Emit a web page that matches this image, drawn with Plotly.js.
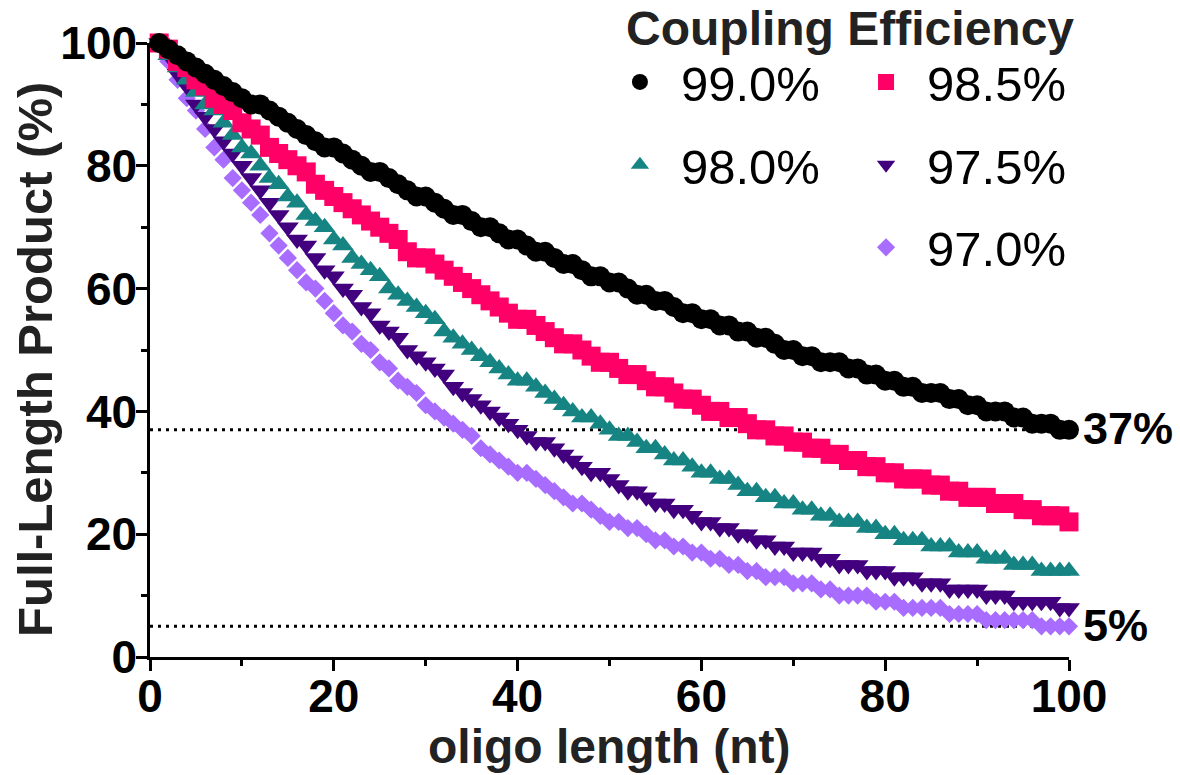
<!DOCTYPE html>
<html>
<head>
<meta charset="utf-8">
<script src="https://cdn.plot.ly/plotly-3.0.1.min.js"></script>
<style>
html,body{margin:0;padding:0;background:#ffffff;}
#chart{width:1180px;height:775px;}
</style>
</head>
<body>
<div id="chart"></div>
<script>
// oligo length (nt)
const oligoLength = [
  1,2,3,4,5,6,7,8,9,10,
  11,12,13,14,15,16,17,18,19,20,
  21,22,23,24,25,26,27,28,29,30,
  31,32,33,34,35,36,37,38,39,40,
  41,42,43,44,45,46,47,48,49,50,
  51,52,53,54,55,56,57,58,59,60,
  61,62,63,64,65,66,67,68,69,70,
  71,72,73,74,75,76,77,78,79,80,
  81,82,83,84,85,86,87,88,89,90,
  91,92,93,94,95,96,97,98,99,100
];

// Full-length product (%) read per coupling efficiency
const product990 = [
  100,99,98,97,96,95,94,93,92,91,
  90,90,89,88,87,86,85,84,83,83,
  82,81,80,79,79,78,77,76,75,75,
  74,73,72,72,71,70,70,69,68,68,
  67,66,66,65,64,64,63,62,62,61,
  61,60,59,59,58,58,57,56,56,55,
  55,54,54,53,53,52,52,51,50,50,
  49,49,48,48,48,47,47,46,46,45,
  45,44,44,43,43,43,42,42,41,41,
  40,40,40,39,39,38,38,38,37,37
];
const product985 = [
  100,99,97,96,94,93,91,90,89,87,
  86,85,83,82,81,80,79,77,76,75,
  74,73,72,71,70,69,68,66,65,65,
  64,63,62,61,60,59,58,57,56,55,
  55,54,53,52,51,51,50,49,48,48,
  47,46,46,45,44,44,43,42,42,41,
  40,40,39,39,38,37,37,36,36,35,
  35,34,34,33,33,32,32,31,31,30,
  30,29,29,29,28,28,27,27,26,26,
  26,25,25,25,24,24,23,23,23,22
];
const product980 = [
  100,98,96,94,92,90,89,87,85,83,
  82,80,78,77,75,74,72,71,70,68,
  67,65,64,63,62,60,59,58,57,56,
  55,53,52,51,50,49,48,47,46,45,
  45,44,43,42,41,40,39,39,38,37,
  36,36,35,34,34,33,32,32,31,30,
  30,29,29,28,27,27,26,26,25,25,
  24,24,23,23,22,22,22,21,21,20,
  20,19,19,19,18,18,18,17,17,17,
  16,16,16,15,15,15,14,14,14,14
];
const product975 = [
  100,98,95,93,90,88,86,84,82,80,
  78,76,74,72,70,68,67,65,63,62,
  60,59,57,56,54,53,52,50,49,48,
  47,46,44,43,42,41,40,39,38,37,
  36,35,35,34,33,32,31,30,30,29,
  28,27,27,26,25,25,24,24,23,22,
  22,21,21,20,20,19,19,18,18,17,
  17,17,16,16,15,15,15,14,14,14,
  13,13,13,12,12,12,11,11,11,11,
  10,10,10,9,9,9,9,9,8,8
];
const product970 = [
  100,97,94,91,89,86,83,81,78,76,
  74,72,69,67,65,63,61,60,58,56,
  54,53,51,50,48,47,45,44,43,41,
  40,39,38,37,36,34,33,32,31,30,
  30,29,28,27,26,25,25,24,23,22,
  22,21,21,20,19,19,18,18,17,17,
  16,16,15,15,14,14,13,13,13,12,
  12,12,11,11,10,10,10,10,9,9,
  9,8,8,8,8,8,7,7,7,7,
  6,6,6,6,6,6,5,5,5,5
];

const seriesNames = ['99.0%', '98.5%', '98.0%', '97.5%', '97.0%'];
const referenceLevels = [37, 5];
const referenceLabels = ['37%', '5%'];
const xTickValues = [0, 20, 40, 60, 80, 100];
const yTickValues = [0, 20, 40, 60, 80, 100];
const xTitle = 'oligo length (nt)';
const yTitle = 'Full-Length Product (%)';
const legendTitle = 'Coupling Efficiency';

const FONT = 'Liberation Sans, Arial, Helvetica, sans-serif';

// drawing order: lowest curve first, so the 99.0% circles sit on top
const specs = [
  {name: seriesNames[4], y: product970, symbol: 'diamond',       size: 14, color: '#A86CFF', legend: 'legend2', rank: 5},
  {name: seriesNames[3], y: product975, symbol: 'triangle-down', size: 19, color: '#42007F', legend: 'legend2', rank: 4},
  {name: seriesNames[2], y: product980, symbol: 'triangle-up',   size: 19, color: '#168482', legend: 'legend',  rank: 3},
  {name: seriesNames[1], y: product985, symbol: 'square',        size: 19, color: '#FF0066', legend: 'legend2', rank: 2},
  {name: seriesNames[0], y: product990, symbol: 'circle',        size: 20, color: '#000000', legend: 'legend',  rank: 1}
];

const traces = specs.map(s => ({
  type: 'scatter',
  mode: 'markers',
  name: s.name,
  x: oligoLength,
  y: s.y,
  cliponaxis: false,
  legend: s.legend,
  legendgroup: 'g' + s.rank,
  legendrank: s.rank,
  marker: {symbol: s.symbol, size: s.size, color: s.color, line: {width: 0}},
  hoverinfo: 'x+y+name'
}));

const shapes = referenceLevels.map(v => ({
  type: 'line', xref: 'x', yref: 'y', x0: 0, x1: 100, y0: v, y1: v,
  layer: 'below',
  line: {color: '#000000', width: 3, dash: '3px,5px'}
}));

const annotations = referenceLevels.map((v, i) => ({
  xref: 'x', yref: 'y', x: 100, y: v,
  text: referenceLabels[i],
  showarrow: false, xanchor: 'left', yanchor: 'middle',
  xshift: 12, yshift: 1,
  font: {family: FONT, size: 45, color: '#000000', weight: 'bold'}
}));
annotations.push({
  xref: 'paper', yref: 'paper', x: 0.7617, y: 1.0244,
  text: legendTitle,
  showarrow: false, xanchor: 'center', yanchor: 'middle',
  font: {family: FONT, size: 48, color: '#222222', weight: 'bold'}
});
// axis titles as annotations so they can sit where the reference puts them
annotations.push({
  xref: 'paper', yref: 'paper', x: 0.5, y: -0.145,
  text: xTitle,
  showarrow: false, xanchor: 'center', yanchor: 'middle',
  font: {family: FONT, size: 48, color: '#222222', weight: 'bold'}
});
annotations.push({
  xref: 'paper', yref: 'paper', x: -0.1252, y: 0.4853,
  text: yTitle, textangle: -90,
  showarrow: false, xanchor: 'center', yanchor: 'middle',
  font: {family: FONT, size: 49, color: '#222222', weight: 'bold'}
});

const legendCommon = {
  orientation: 'v',
  xanchor: 'left', yanchor: 'top',
  y: 0.999,
  bgcolor: 'rgba(0,0,0,0)',
  borderwidth: 0,
  itemwidth: 72,
  tracegroupgap: 16,
  traceorder: 'grouped',
  font: {family: FONT, size: 49, color: '#000000'}
};

const axisCommon = {
  range: [0, 100],
  showgrid: false,
  zeroline: false,
  showline: true,
  linecolor: '#000000',
  linewidth: 2.5,
  ticks: 'outside',
  ticklen: 11,
  tickwidth: 2.5,
  tickcolor: '#000000',
  tickfont: {family: FONT, size: 46, color: '#000000', weight: 'bold'},
  minor: {dtick: 10, tick0: 0, ticks: 'outside', ticklen: 6, tickwidth: 2.5, tickcolor: '#000000', showgrid: false},
  fixedrange: true
};

const layout = {
  width: 1180,
  height: 775,
  margin: {l: 150, r: 111, t: 43, b: 118, pad: 0},
  paper_bgcolor: '#ffffff',
  plot_bgcolor: '#ffffff',
  font: {family: FONT, color: '#000000'},
  showlegend: true,
  legend: Object.assign({}, legendCommon, {x: 0.4885}),
  legend2: Object.assign({}, legendCommon, {x: 0.7563}),
  xaxis: Object.assign({}, axisCommon, {
    tickmode: 'array', tickvals: xTickValues, ticktext: xTickValues.map(String),
    ticklabelstandoff: -14
  }),
  yaxis: Object.assign({}, axisCommon, {
    tickmode: 'array', tickvals: yTickValues, ticktext: yTickValues.map(String),
    ticklabelstandoff: -10
  }),
  shapes: shapes,
  annotations: annotations
};

Plotly.newPlot('chart', traces, layout, {displayModeBar: false, responsive: false});
</script>
</body>
</html>
